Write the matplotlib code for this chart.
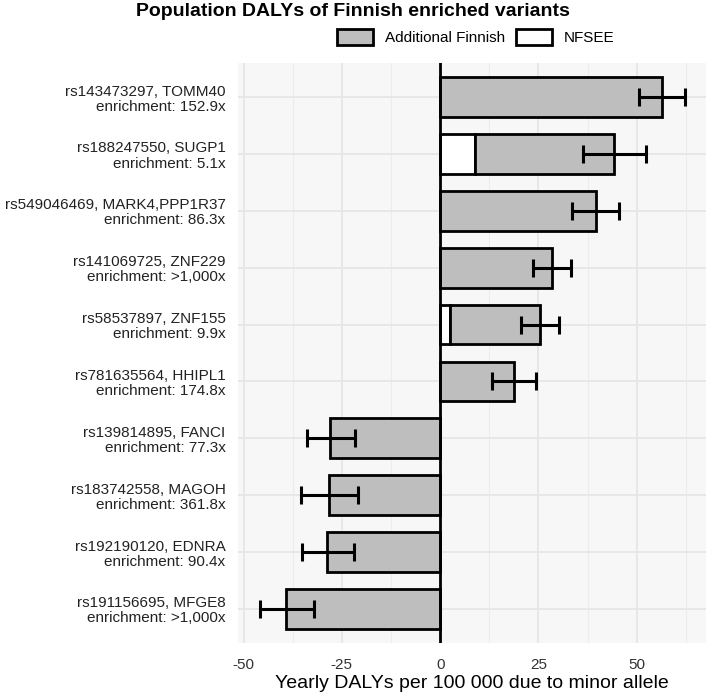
import matplotlib
matplotlib.use("Agg")
import matplotlib.pyplot as plt
from matplotlib.patches import Patch
import numpy as np

plt.rcParams['font.family'] = ['Liberation Sans', 'DejaVu Sans']

# variants, top to bottom
labels = [
    "rs143473297, TOMM40\nenrichment: 152.9x",
    "rs188247550, SUGP1\nenrichment: 5.1x",
    "rs549046469, MARK4,PPP1R37\nenrichment: 86.3x",
    "rs141069725, ZNF229\nenrichment: >1,000x",
    "rs58537897, ZNF155\nenrichment: 9.9x",
    "rs781635564, HHIPL1\nenrichment: 174.8x",
    "rs139814895, FANCI\nenrichment: 77.3x",
    "rs183742558, MAGOH\nenrichment: 361.8x",
    "rs192190120, EDNRA\nenrichment: 90.4x",
    "rs191156695, MFGE8\nenrichment: >1,000x",
]
nfsee = [0.0, 8.9, 0.0, 0.0, 2.5, 0.0, 0.0, 0.0, 0.0, 0.0]
additional = [56.4, 35.4, 39.6, 28.4, 22.9, 18.8, -28.0, -28.2, -28.7, -39.3]
ci_low = [50.5, 36.2, 33.5, 23.6, 20.6, 13.3, -33.9, -35.4, -35.0, -45.8]
ci_high = [62.3, 52.3, 45.6, 33.2, 30.1, 24.4, -21.6, -20.8, -21.8, -32.1]

nfsee = np.array(nfsee)
additional = np.array(additional)
total = nfsee + additional
y = np.arange(len(labels))

fig = plt.figure(figsize=(7.06, 6.97), dpi=100)
ax = fig.add_axes([238 / 706, 54 / 697, 468 / 706, 580 / 697])
ax.set_facecolor("#f7f7f7")

# grid
for v in [-50, -25, 0, 25, 50]:
    ax.axvline(v, color="#e6e6e6", lw=1.3, zorder=0)
for v in [-37.5, -12.5, 12.5, 37.5, 62.5]:
    ax.axvline(v, color="#ececec", lw=0.8, zorder=0)
for v in y:
    ax.axhline(v, color="#e6e6e6", lw=1.3, zorder=0)

ax.barh(y, nfsee, height=0.7, color="white", edgecolor="black", lw=2, zorder=2)
ax.barh(y, additional, left=nfsee, height=0.7, color="#bebebe",
        edgecolor="black", lw=2, zorder=2)
ax.errorbar(total, y, xerr=[total - np.array(ci_low), np.array(ci_high) - total],
            fmt="none", ecolor="black", elinewidth=2.2, capsize=6.7,
            capthick=2.2, zorder=3)
ax.axvline(0, color="black", lw=2, zorder=4)

ax.set_xlim(-51.4, 67.6)
ax.set_ylim(len(labels) - 0.4, -0.6)
ax.set_yticks(y)
ax.set_yticklabels(labels, fontsize=11, color="#222222", linespacing=1.1)
ax.set_xticks([-50, -25, 0, 25, 50])
ax.set_xticklabels(["-50", "-25", "0", "25", "50"], fontsize=11, color="#333333")
ax.tick_params(axis="y", length=0, pad=9)
ax.tick_params(axis="x", length=0, pad=11)
for s in ax.spines.values():
    s.set_visible(False)
ax.set_xlabel("Yearly DALYs per 100 000 due to minor allele", fontsize=14, labelpad=2)

fig.suptitle("Population DALYs of Finnish enriched variants", fontsize=14,
             fontweight="bold", x=0.5, y=1 - 3 / 697, va="top")

handles = [Patch(facecolor="#bebebe", edgecolor="black", lw=2, label="Additional Finnish"),
           Patch(facecolor="white", edgecolor="black", lw=2, label="NFSEE")]
fig.legend(handles=handles, loc="center", bbox_to_anchor=(476 / 706, 1 - 37 / 697),
           ncol=2, frameon=False, fontsize=11, handlelength=2.35, handleheight=1.2,
           handletextpad=0.8, columnspacing=0.7)

fig.savefig("out.png", dpi=100)
